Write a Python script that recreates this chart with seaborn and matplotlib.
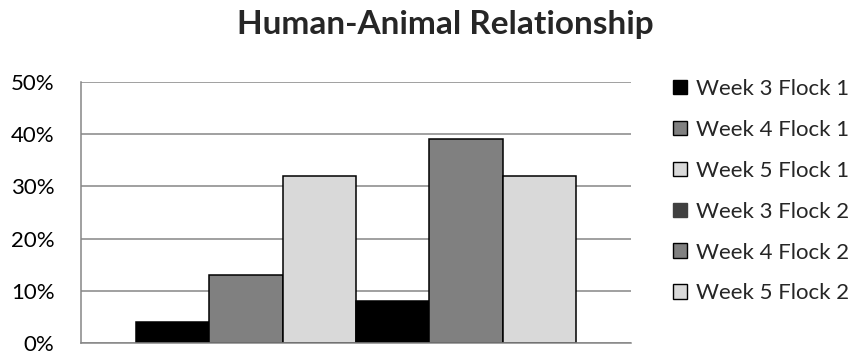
import matplotlib
matplotlib.use("Agg")
import matplotlib.pyplot as plt
from matplotlib.patches import Patch
from matplotlib.ticker import PercentFormatter
import seaborn as sns
import pandas as pd

# Share of birds showing each response, by week and flock
series = ["Week 3 Flock 1", "Week 4 Flock 1", "Week 5 Flock 1",
          "Week 3 Flock 2", "Week 4 Flock 2", "Week 5 Flock 2"]
values = [0.04, 0.13, 0.32, 0.08, 0.39, 0.32]
bar_colors = ["#000000", "#808080", "#D9D9D9", "#000000", "#808080", "#D9D9D9"]
legend_colors = ["#000000", "#808080", "#D9D9D9", "#404040", "#808080", "#D9D9D9"]
legend_edges = ["#000000", "#000000", "#000000", "#404040", "#000000", "#000000"]
y_ticks = [0.0, 0.1, 0.2, 0.3, 0.4, 0.5]

df = pd.DataFrame({"group": ["All"] * len(series), "series": series, "value": values})

sns.set_theme(style="white")
plt.rcParams["font.family"] = ["Lato", "DejaVu Sans"]

W, H = 859, 351
fig = plt.figure(figsize=(W / 100, H / 100), dpi=100)
ax = fig.add_axes([81 / W, 1 - 343 / H, 550 / W, 261 / H])

sns.barplot(data=df, x="group", y="value", hue="series", hue_order=series,
            palette=bar_colors, width=0.8, saturation=1, legend=False,
            edgecolor="black", linewidth=1.1, ax=ax)

ax.set_xlim(-0.5, 0.5)
ax.set_ylim(0, 0.5)
ax.set_yticks(y_ticks)
ax.yaxis.set_major_formatter(PercentFormatter(1.0, decimals=0))
ax.set_xticks([])
ax.set_xlabel("")
ax.set_ylabel("")
ax.tick_params(axis="y", length=0, pad=19, labelsize=16, labelcolor="black")

ax.set_axisbelow(True)
ax.grid(axis="y", color="#868686", linewidth=1.1)
for side in ["top", "right"]:
    ax.spines[side].set_visible(False)
for side in ["left", "bottom"]:
    ax.spines[side].set_color("#868686")
    ax.spines[side].set_linewidth(1.1)

handles = [Patch(facecolor=fc, edgecolor=ec, linewidth=1.0)
           for fc, ec in zip(legend_colors, legend_edges)]
fig.legend(handles, series, loc="upper left",
           bbox_to_anchor=(673 / W, 1 - 79 / H), frameon=False,
           fontsize=16, handlelength=0.63, handleheight=0.63,
           handletextpad=0.4, labelspacing=0.94, borderpad=0,
           borderaxespad=0)

fig.text(445 / W, 1 - 34 / H, "Human-Animal Relationship", ha="center",
         va="baseline", fontsize=24, fontweight="bold")

fig.savefig("out.png", dpi=100)
